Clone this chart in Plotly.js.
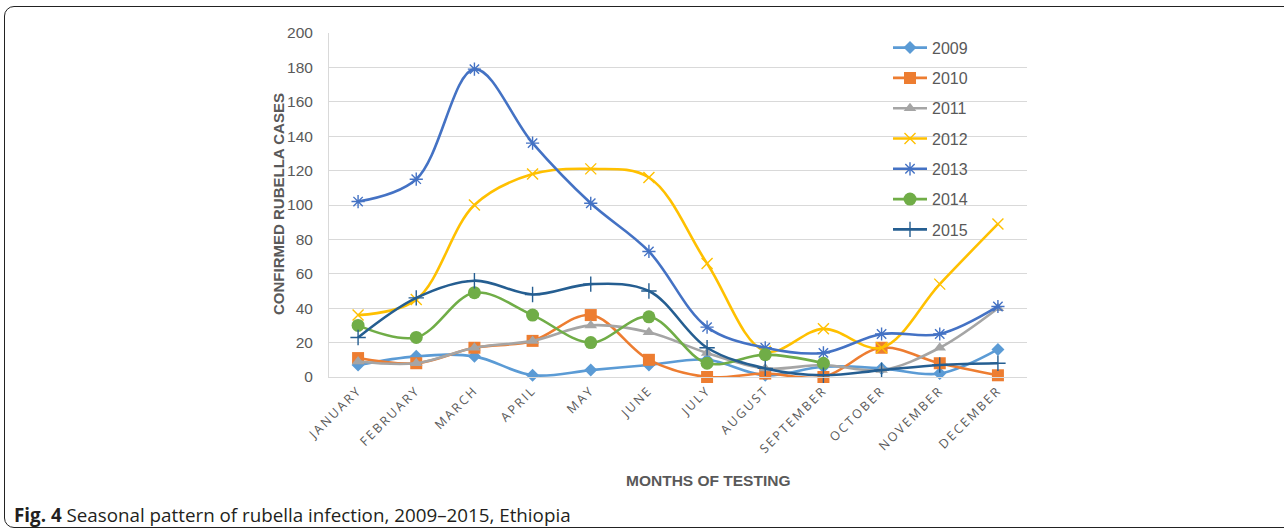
<!DOCTYPE html>
<html>
<head>
<meta charset="utf-8">
<script src="https://cdn.plot.ly/plotly-3.0.1.min.js"></script>
<style>
  html, body { margin: 0; padding: 0; background: #fff; }
  #wrap { position: relative; width: 1284px; height: 532px; overflow: hidden; }
  #frame { position: absolute; left: 4px; top: 6px; width: 1290px; height: 522px;
           border: 1.5px solid #222; border-radius: 10px; box-sizing: border-box; }
  #chart { position: absolute; left: 0; top: 0; width: 1284px; height: 532px; }
  .xtick text { letter-spacing: 2.2px; }
</style>
</head>
<body>
<div id="wrap">
  <div id="frame"></div>
  <div id="chart"></div>
</div>
<script>
const months = ["JANUARY","FEBRUARY","MARCH","APRIL","MAY","JUNE","JULY","AUGUST","SEPTEMBER","OCTOBER","NOVEMBER","DECEMBER"];
const y2009 = [7, 12, 12, 1, 4, 7, 10, 1, 6, 5, 2, 16];
const y2010 = [11, 8, 17, 21, 36, 10, 0, 2, 0, 17, 8, 1];
const y2011 = [9, 8, 17, 21, 30, 26, 14, 5, 7, 4, 17, 40];
const y2012 = [36, 45, 100, 118, 121, 116, 66, 15, 28, 17, 54, 89];
const y2013 = [102, 115, 179, 136, 101, 73, 29, 17, 14, 25, 25, 41];
const y2014 = [30, 23, 49, 36, 20, 35, 8, 13, 8];
const y2015 = [23, 46, 56, 48, 54, 50, 17, 5, 1, 4, 7, 8];

const seriesNames = ["2009","2010","2011","2012","2013","2014","2015"];
const seriesData = [y2009, y2010, y2011, y2012, y2013, y2014, y2015];
const colors = ["#5B9BD5","#ED7D31","#A5A5A5","#FFC000","#4472C4","#70AD47","#255E91"];
const symbols = ["diamond","square","triangle-up","x-thin-open","asterisk-open","circle","cross-thin-open"];
const sizes = [10, 12, 11, 11, 11, 13, 11];

const traces = seriesNames.map((n, i) => ({
  type: "scatter",
  mode: "lines+markers",
  name: n,
  legendgroup: n,
  x: months.slice(0, seriesData[i].length),
  y: seriesData[i],
  line: { color: colors[i], width: 2.6, shape: "spline", smoothing: 1 },
  marker: { symbol: symbols[i], size: sizes[i], color: colors[i],
            line: { color: colors[i], width: (symbols[i].indexOf("open") >= 0 ? 1.4 : 0) } },
  cliponaxis: false
}));

const W = 698, H = 343.4, L = 329, T = 33.3;
const px = x => (x - L) / W;
const py = y => (T + H - y) / H;

const layout = {
  width: 1284, height: 532,
  margin: { l: 329, r: 257, t: 33.3, b: 155.3 },
  paper_bgcolor: "rgba(0,0,0,0)",
  plot_bgcolor: "rgba(0,0,0,0)",
  showlegend: true,
  legend: {
    x: px(888), y: py(31), xanchor: "left", yanchor: "top",
    bgcolor: "rgba(0,0,0,0)",
    font: { family: "Liberation Sans, Arial, sans-serif", size: 16, color: "#595959" },
    tracegroupgap: 6.5,
    itemwidth: 34
  },
  xaxis: {
    type: "category",
    categoryorder: "array", categoryarray: months,
    range: [-0.5, 11.5],
    tickangle: -45,
    tickfont: { family: "Open Sans, sans-serif", size: 12.5, color: "#595959" },
    showgrid: false,
    showline: true, linecolor: "#D9D9D9", linewidth: 1,
    ticks: "",
    fixedrange: true
  },
  yaxis: {
    range: [0, 200], dtick: 20,
    tickfont: { family: "Liberation Sans, Arial, sans-serif", size: 15.5, color: "#595959" },
    showgrid: true, gridcolor: "#D9D9D9", gridwidth: 1,
    showline: true, linecolor: "#D9D9D9", linewidth: 1,
    zeroline: false,
    ticks: "", ticklen: 0,
    ticklabelstandoff: 12
  },
  annotations: [{
    xref: "paper", yref: "paper",
    x: px(279), y: py(204),
    xanchor: "center", yanchor: "middle",
    textangle: -90, showarrow: false,
    text: "<b>CONFIRMED RUBELLA CASES</b>",
    font: { family: "Liberation Sans, Arial, sans-serif", size: 15, color: "#595959" }
  }, {
    xref: "paper", yref: "paper",
    x: px(708), y: py(480),
    xanchor: "center", yanchor: "middle",
    showarrow: false,
    text: "<b>MONTHS OF TESTING</b>",
    font: { family: "Liberation Sans, Arial, sans-serif", size: 15.5, color: "#595959" }
  }, {
    xref: "paper", yref: "paper",
    x: px(12), y: py(514),
    xanchor: "left", yanchor: "middle",
    showarrow: false,
    text: "<b>Fig. 4</b> Seasonal pattern of rubella infection, 2009–2015, Ethiopia",
    font: { family: "Open Sans, sans-serif", size: 18.8, color: "#231F20" }
  }]
};

Plotly.newPlot("chart", traces, layout, { displayModeBar: false, staticPlot: true });
</script>
</body>
</html>
